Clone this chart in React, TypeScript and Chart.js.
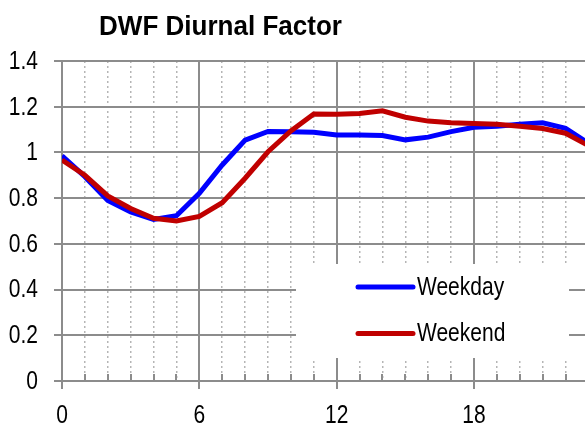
import React, { useEffect, useRef } from 'react';
import { Chart, registerables } from 'chart.js';

Chart.register(...registerables);

const TITLE = 'DWF Diurnal Factor';
const hours = [0, 1, 2, 3, 4, 5, 6, 7, 8, 9, 10, 11, 12, 13, 14, 15, 16, 17, 18, 19, 20, 21, 22, 23];
const weekday = [0.985, 0.894, 0.79, 0.74, 0.707, 0.723, 0.821, 0.945, 1.054, 1.092, 1.091, 1.088, 1.076, 1.076, 1.074, 1.055, 1.067, 1.091, 1.11, 1.115, 1.123, 1.13, 1.105, 1.04];
const weekend = [0.967, 0.9, 0.81, 0.755, 0.712, 0.7, 0.72, 0.78, 0.887, 1.003, 1.094, 1.168, 1.167, 1.17, 1.182, 1.154, 1.137, 1.13, 1.127, 1.123, 1.115, 1.105, 1.084, 1.03];
const seriesNames = ['Weekday', 'Weekend'];
const seriesColors = ['#0000FF', '#C00000'];
const xTickValues = [0, 1, 2, 3, 4, 5, 6, 7, 8, 9, 10, 11, 12, 13, 14, 15, 16, 17, 18, 19, 20, 21, 22];
const xLabelEvery = 6;
const xMax = 22.85;
const yMin = 0;
const yMax = 1.4;
const yStep = 0.2;

const FONT = "'Liberation Sans', Arial, sans-serif";
const NARROW = 0.84;
const GRID = '#8c8c8c';
const MINOR = '#b5b5b5';

const isMajor = (v: number) => Math.abs(v % xLabelEvery) < 1e-9;
const fmtY = (v: number) => String(Number(v.toFixed(1)));
const fmtX = (v: number) => (isMajor(v) ? String(v) : '');

function narrowText(ctx: any, text: string, x: number, y: number, align: string, sx: number) {
  ctx.save();
  ctx.translate(x, y);
  ctx.scale(sx, 1);
  ctx.textAlign = align;
  ctx.fillText(text, 0, 0);
  ctx.restore();
}

const textPlugin = {
  id: 'narrowTexts',
  afterDraw(chart: any) {
    const ctx = chart.ctx;
    ctx.save();
    ctx.fillStyle = '#000';
    // title
    ctx.font = `bold 28px ${FONT}`;
    ctx.textBaseline = 'alphabetic';
    const tw = ctx.measureText(TITLE).width;
    narrowText(ctx, TITLE, 99, 35, 'left', 243 / tw);
    // axis labels
    ctx.font = `25px ${FONT}`;
    const ys = chart.scales.y;
    ctx.textBaseline = 'middle';
    ys.ticks.forEach((t: any) => {
      narrowText(ctx, fmtY(t.value), 38, ys.getPixelForValue(t.value) + 1, 'right', NARROW);
    });
    const xs = chart.scales.x;
    ctx.textBaseline = 'alphabetic';
    xs.ticks.forEach((t: any) => {
      const s = fmtX(t.value);
      if (s) narrowText(ctx, s, xs.getPixelForValue(t.value), 423, 'center', NARROW);
    });
    ctx.restore();
  },
};

const minorTickPlugin = {
  id: 'minorTicks',
  beforeDatasetsDraw(chart: any) {
    const ctx = chart.ctx;
    const xs = chart.scales.x;
    const bottom = chart.chartArea.bottom;
    ctx.save();
    ctx.strokeStyle = GRID;
    ctx.lineWidth = 2;
    xTickValues.forEach((v) => {
      if (isMajor(v)) return;
      const px = Math.round(xs.getPixelForValue(v));
      ctx.beginPath();
      ctx.moveTo(px, bottom);
      ctx.lineTo(px, bottom - 7);
      ctx.stroke();
    });
    ctx.restore();
  },
};

const legendPlugin = {
  id: 'boxLegend',
  afterDatasetsDraw(chart: any) {
    const ctx = chart.ctx;
    const ca = chart.chartArea;
    const bx = ca.left + 234;
    const by = ca.top + 203;
    ctx.save();
    ctx.fillStyle = '#ffffff';
    ctx.fillRect(bx, by, 273, 94);
    chart.data.datasets.forEach((ds: any, i: number) => {
      const y = by + 23 + i * 46.5;
      ctx.strokeStyle = ds.borderColor;
      ctx.lineWidth = 5;
      ctx.lineCap = 'round';
      ctx.beginPath();
      ctx.moveTo(bx + 62, y);
      ctx.lineTo(bx + 117, y);
      ctx.stroke();
      ctx.fillStyle = '#000';
      ctx.font = `25px ${FONT}`;
      ctx.textBaseline = 'middle';
      narrowText(ctx, ds.label, bx + 121, y + 1, 'left', NARROW);
    });
    ctx.restore();
  },
};

export default function App() {
  const ref = useRef<HTMLCanvasElement>(null);
  useEffect(() => {
    document.body.style.margin = '0';
    const canvas = ref.current!;
    const mk = (vals: number[]) => hours.map((h, i) => ({ x: h, y: vals[i] }));
    const chart = new Chart(canvas, {
      type: 'line',
      data: {
        datasets: [
          { label: seriesNames[0], data: mk(weekday), borderColor: seriesColors[0], backgroundColor: seriesColors[0], borderWidth: 5, pointRadius: 0, tension: 0, order: 1 },
          { label: seriesNames[1], data: mk(weekend), borderColor: seriesColors[1], backgroundColor: seriesColors[1], borderWidth: 5, pointRadius: 0, tension: 0, order: 0 },
        ],
      },
      options: {
        animation: false,
        responsive: false,
        events: [],
        layout: { padding: { top: 61, right: 0, left: 0, bottom: 0 } },
        plugins: { legend: { display: false }, title: { display: false }, tooltip: { enabled: false } },
        scales: {
          x: {
            type: 'linear',
            min: 0,
            max: xMax,
            afterBuildTicks: (scale: any) => {
              scale.ticks = xTickValues.map((v) => ({ value: v }));
            },
            afterFit: (scale: any) => {
              scale.height = 43;
            },
            ticks: { display: false, autoSkip: false, maxRotation: 0 },
            grid: {
              color: (c: any) => (c.tick && isMajor(c.tick.value) ? GRID : MINOR),
              lineWidth: (c: any) => (c.tick && isMajor(c.tick.value) ? 2 : 1.5),
              tickColor: (c: any) => (c.tick && isMajor(c.tick.value) ? GRID : 'rgba(0,0,0,0)'),
              tickLength: 8,
              tickWidth: 2,
              tickBorderDash: [],
              borderDash: (c: any) => (c.tick && !isMajor(c.tick.value) ? [2, 3] : []),
            } as any,
            border: {
              display: true,
              color: GRID,
              width: 2,
              dash: (c: any) => (c.tick && !isMajor(c.tick.value) ? [2, 3] : []),
            } as any,
          },
          y: {
            min: yMin,
            max: yMax,
            afterFit: (scale: any) => {
              scale.width = 62;
            },
            ticks: { display: false, stepSize: yStep },
            grid: { color: GRID, lineWidth: 2, tickLength: 8, tickWidth: 2, tickColor: GRID },
            border: { display: true, color: GRID, width: 2 },
          },
        },
      },
      plugins: [minorTickPlugin, legendPlugin, textPlugin],
    } as any);
    return () => chart.destroy();
  }, []);
  return (
    <div style={{ width: 585, height: 424, background: '#fff' }}>
      <canvas ref={ref} width={585} height={424} style={{ display: 'block' }} />
    </div>
  );
}
